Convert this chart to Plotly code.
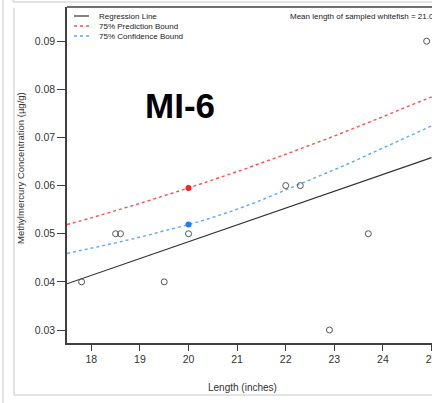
import plotly.graph_objects as go

# ---- data ----
length_in = [17.8, 18.5, 18.6, 19.5, 20.0, 22.0, 22.3, 22.9, 23.7, 24.9]
mehg = [0.040, 0.050, 0.050, 0.040, 0.050, 0.060, 0.060, 0.030, 0.050, 0.090]

reg_x = [17.5, 25.0]
reg_y = [0.0396, 0.0658]

bound_x = [17.5, 18.0, 18.5, 19.0, 19.5, 20.0, 20.5, 21.0, 21.5, 22.0,
           22.5, 23.0, 23.5, 24.0, 24.5, 25.0]
pred_upper = [0.0519, 0.0533, 0.0548, 0.0563, 0.0579, 0.0595, 0.0612, 0.0629,
              0.0647, 0.0665, 0.0684, 0.0703, 0.0723, 0.0743, 0.0764, 0.0784]
conf_upper = [0.0459, 0.0470, 0.0481, 0.0493, 0.0506, 0.0519, 0.0534, 0.0551,
              0.0570, 0.0591, 0.0612, 0.0633, 0.0655, 0.0678, 0.0701, 0.0724]

sel_x = [20.0]
sel_pred = [0.0595]
sel_conf = [0.0519]

x_ticks = [18, 19, 20, 21, 22, 23, 24, 25]
y_ticks = [0.03, 0.04, 0.05, 0.06, 0.07, 0.08, 0.09]

FONT = "Arial, Liberation Sans, sans-serif"
W, H = 432, 403
ML, MT, MB = 67, 7, 60
PW, PH = W - ML, H - MT - MB


def px(x):
    return (x - ML) / PW


def py(y):
    return (H - MB - y) / PH


fig = go.Figure()
fig.add_trace(go.Scatter(x=reg_x, y=reg_y, mode="lines",
                         line=dict(color="#333333", width=1.2), showlegend=False))
fig.add_trace(go.Scatter(x=bound_x, y=pred_upper, mode="lines", line_shape="spline",
                         line=dict(color="#ff4d4d", width=1.4, dash="dot"), showlegend=False))
fig.add_trace(go.Scatter(x=bound_x, y=conf_upper, mode="lines", line_shape="spline",
                         line=dict(color="#5aa8ff", width=1.4, dash="dot"), showlegend=False))
fig.add_trace(go.Scatter(x=length_in, y=mehg, mode="markers",
                         marker=dict(symbol="circle-open", size=6, color="#555555",
                                     line=dict(width=1)), showlegend=False))
fig.add_trace(go.Scatter(x=sel_x, y=sel_pred, mode="markers",
                         marker=dict(size=6, color="#ff2020"), showlegend=False))
fig.add_trace(go.Scatter(x=sel_x, y=sel_conf, mode="markers",
                         marker=dict(size=6, color="#1a7fff"), showlegend=False))

line_col = "#404040"
frame_col = "#c8c8c8"
shapes = [
    # top border of plot box
    dict(type="line", xref="paper", yref="paper", x0=0, x1=1.05, y0=1, y1=1,
         line=dict(color=line_col, width=1.5)),
    # outer frames (screenshot borders)
    dict(type="line", xref="paper", yref="paper", x0=px(3), x1=px(3), y0=py(0), y1=py(403),
         line=dict(color=frame_col, width=1)),
    dict(type="line", xref="paper", yref="paper", x0=px(14), x1=px(14), y0=py(8), y1=py(395),
         line=dict(color=frame_col, width=1)),
    dict(type="line", xref="paper", yref="paper", x0=px(14), x1=px(440), y0=py(395), y1=py(395),
         line=dict(color=frame_col, width=1)),
    dict(type="line", xref="paper", yref="paper", x0=px(13), x1=px(440), y0=py(2), y1=py(2),
         line=dict(color=frame_col, width=1)),
    dict(type="line", xref="paper", yref="paper", x0=px(13), x1=px(13), y0=py(-1), y1=py(2),
         line=dict(color=frame_col, width=1)),
    # legend samples
    dict(type="line", xref="paper", yref="paper", x0=px(74), x1=px(89), y0=py(16), y1=py(16),
         line=dict(color="#333333", width=1.2)),
    dict(type="line", xref="paper", yref="paper", x0=px(74), x1=px(89), y0=py(26), y1=py(26),
         line=dict(color="#ff4d4d", width=1.4, dash="dot")),
    dict(type="line", xref="paper", yref="paper", x0=px(74), x1=px(89), y0=py(36), y1=py(36),
         line=dict(color="#5aa8ff", width=1.4, dash="dot")),
]

legend_texts = ["Regression Line", "75% Prediction Bound", "75% Confidence Bound"]
ann = []
for i, t in enumerate(legend_texts):
    ann.append(dict(x=px(97), y=py(16 + 10 * i), xref="paper", yref="paper", text=t,
                    showarrow=False, xanchor="left", yanchor="middle",
                    font=dict(family=FONT, size=8, color="#222222")))
ann += [
    dict(x=px(288), y=py(16), xref="paper", yref="paper",
         text="Mean length of sampled whitefish = 21.0", showarrow=False,
         xanchor="left", yanchor="middle", font=dict(family=FONT, size=8, color="#222222")),
    dict(x=px(180), y=py(106), xref="paper", yref="paper", text="<b>MI-6</b>",
         showarrow=False, xanchor="center", yanchor="middle",
         font=dict(family="Liberation Sans, Arial, sans-serif", size=35, color="#000000")),
    dict(x=px(242), y=py(387), xref="paper", yref="paper", text="Length (inches)",
         showarrow=False, xanchor="center", yanchor="middle",
         font=dict(family=FONT, size=10, color="#333333")),
    dict(x=px(20), y=py(168), xref="paper", yref="paper",
         text="Methylmercury Concentration (µg/g)", textangle=-90,
         showarrow=False, xanchor="center", yanchor="middle",
         font=dict(family=FONT, size=9.5, color="#333333")),
]

fig.update_layout(
    width=W, height=H, template="none",
    margin=dict(l=ML, r=0, t=MT, b=MB, pad=0),
    paper_bgcolor="white", plot_bgcolor="white",
    shapes=shapes, annotations=ann, showlegend=False,
    xaxis=dict(range=[17.5, 25.01], tickvals=x_ticks, ticktext=[str(v) for v in x_ticks],
               showgrid=False, zeroline=False, showline=True, linecolor=line_col, linewidth=1.5,
               ticks="outside", ticklen=6, tickcolor=line_col, tickwidth=1,
               ticklabeloverflow="allow",
               tickfont=dict(family=FONT, size=10.5, color="#333333"), automargin=False),
    yaxis=dict(range=[0.0273, 0.0971], tickvals=y_ticks, ticktext=[f"{v:.2f}" for v in y_ticks],
               showgrid=False, zeroline=False, showline=True, linecolor=line_col, linewidth=1.5,
               ticks="outside", ticklen=8, tickcolor=line_col, tickwidth=1,
               tickfont=dict(family=FONT, size=10.5, color="#333333"), automargin=False),
)

fig.write_html("out.html", config={"displayModeBar": False},
               post_script="document.body.style.margin='0';document.body.style.overflow='hidden';")
